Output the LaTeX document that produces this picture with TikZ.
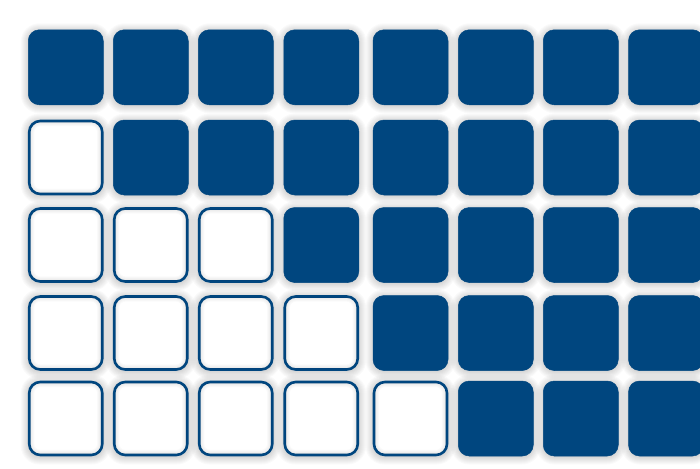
\documentclass[tikz,border=0pt]{standalone}
\definecolor{tileblue}{RGB}{0,70,127}
\tikzset{
  tile/.style={rectangle, rounded corners=11pt, inner sep=0pt},
  fulltile/.style={tile, fill=tileblue, draw=tileblue, line width=0.5pt, minimum width=75pt, minimum height=75pt},
  opentile/.style={tile, fill=white, draw=tileblue, line width=2.6pt, minimum width=73pt, minimum height=73pt},
  shadowring/.style={fill=black, fill opacity=0.02}
}
\begin{document}
\begin{tikzpicture}[x=1pt,y=-1pt]
\useasboundingbox (0,0) rectangle (700,468);
\fill[white] (0,0) rectangle (700,468);
% soft shadows
\foreach \y in {67.3, 157.5, 245, 333, 418.5}{
  \foreach \x in {65.75, 150.75, 235.75, 321.25, 410.5, 495.75, 580.75, 666}{
    \foreach \k in {0.5,1.5,...,7.5}{
      \pgfmathsetmacro\h{37.5+\k}
      \fill[shadowring, rounded corners={11pt+\k pt}]
        (\x-\h,\y-\h+1) rectangle (\x+\h,\y+\h+1);
    }
  }
}
% tiles
\foreach \r/\y/\k in {1/67.3/0, 2/157.5/1, 3/245/3, 4/333/4, 5/418.5/5}{
  \foreach \c/\x in {1/65.75, 2/150.75, 3/235.75, 4/321.25, 5/410.5, 6/495.75, 7/580.75, 8/666}{
    \ifnum\c>\k
      \node[fulltile] (n-\r-\c) at (\x,\y) {};
    \else
      \node[opentile] (n-\r-\c) at (\x,\y) {};
      % faint inner shadow
      \foreach \j in {1,2,3,4}{
        \pgfmathsetmacro\g{35.3-\j}
        \fill[black, fill opacity=0.018, even odd rule]
          [rounded corners=9.7pt] (\x-35.3,\y-35.3) rectangle (\x+35.3,\y+35.3)
          [rounded corners={9.7pt-\j pt}] (\x-\g,\y-\g) rectangle (\x+\g,\y+\g);
      }
    \fi
  }
}
\end{tikzpicture}
\end{document}
